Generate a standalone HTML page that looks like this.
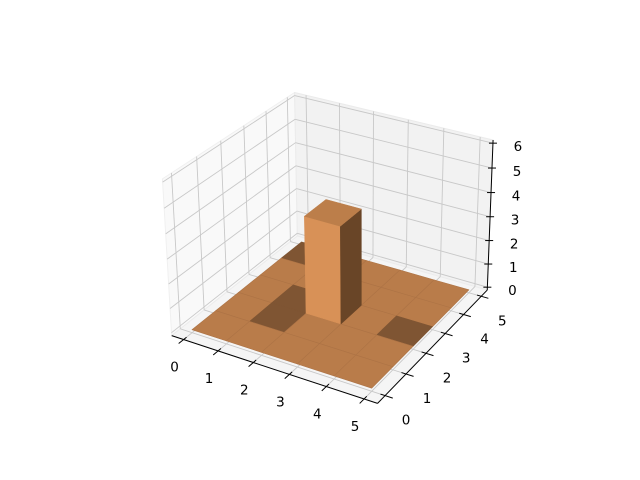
<!DOCTYPE html>
<html><head><meta charset="utf-8"><style>
html,body{margin:0;padding:0;background:#fff;}
svg{display:block;}
text{font-family:"DejaVu Sans","Liberation Sans",sans-serif;font-size:13.5px;fill:#000;}
</style></head><body>
<svg id="chart" width="640" height="480" viewBox="0 0 640 480" xmlns="http://www.w3.org/2000/svg">
<g id="panes"></g>
<g id="grid"></g>
<g id="axes"></g>
<g id="floor"></g>
<g id="bars"></g>
</svg>
<script>
// ---- data ----
const xTicks = [0,1,2,3,4,5];
const yTicks = [0,1,2,3,4,5];
const zTicks = [0,1,2,3,4,5,6];
const gridCols = 5;
const gridRows = 5;
const barCells = [[2,2]];      // [x, y]
const barHeights = [4];
const darkCells = [[1,1],[1,2],[0,4],[4,2]];

const xlim=[-0.35,5.35], ylim=[-0.35,5.35], zlim=[-0.125,6.125];

// ---- projection fitted from reference correspondences ----
const corr = [[0,0,0,192,330],[5,0,0,372,388],[5,5,0,469,290],[0,5,0,302,242],
  [2,2,4,305,216],[3,2,4,341,227],[3,3,4,361,209],[2,3,4,325,199],[3,2,0,341,324],[2,2,0,305,313]];
function solveDLT(){
  const A=[],b=[];
  corr.forEach(([X,Y,Z,u,v])=>{
    A.push([X,Y,Z,1,0,0,0,0,-u*X,-u*Y,-u*Z]);b.push(u);
    A.push([0,0,0,0,X,Y,Z,1,-v*X,-v*Y,-v*Z]);b.push(v);
  });
  const n=11,N=[],r=[];
  for(let i=0;i<n;i++){N.push(new Array(n).fill(0));r.push(0);
    for(let k=0;k<A.length;k++){r[i]+=A[k][i]*b[k];for(let j=0;j<n;j++)N[i][j]+=A[k][i]*A[k][j];}}
  for(let i=0;i<n;i++){let p=i;for(let k=i+1;k<n;k++)if(Math.abs(N[k][i])>Math.abs(N[p][i]))p=k;
    [N[i],N[p]]=[N[p],N[i]];[r[i],r[p]]=[r[p],r[i]];
    for(let k=i+1;k<n;k++){const f=N[k][i]/N[i][i];for(let j=i;j<n;j++)N[k][j]-=f*N[i][j];r[k]-=f*r[i];}}
  const x=new Array(n).fill(0);
  for(let i=n-1;i>=0;i--){let s=r[i];for(let j=i+1;j<n;j++)s-=N[i][j]*x[j];x[i]=s/N[i][i];}
  return x;
}
const P=solveDLT();
function proj(X,Y,Z){const w=P[8]*X+P[9]*Y+P[10]*Z+1;
  return [(P[0]*X+P[1]*Y+P[2]*Z+P[3])/w,(P[4]*X+P[5]*Y+P[6]*Z+P[7])/w];}
const NS="http://www.w3.org/2000/svg";
function poly(g,pts,fill,stroke,sw){const e=document.createElementNS(NS,'polygon');
  e.setAttribute('points',pts.map(p=>proj(...p).map(v=>v.toFixed(2)).join(',')).join(' '));
  e.setAttribute('fill',fill);e.setAttribute('stroke',stroke||'none');if(sw)e.setAttribute('stroke-width',sw);
  e.setAttribute('stroke-linejoin','round');g.appendChild(e);return e;}
function line(g,a,b,stroke,sw){const e=document.createElementNS(NS,'line');
  const p=proj(...a),q=proj(...b);
  e.setAttribute('x1',p[0]);e.setAttribute('y1',p[1]);e.setAttribute('x2',q[0]);e.setAttribute('y2',q[1]);
  e.setAttribute('stroke',stroke);e.setAttribute('stroke-width',sw);g.appendChild(e);return e;}
function label(g,pos,dx,dy,txt){const e=document.createElementNS(NS,'text');const p=proj(...pos);
  e.setAttribute('x',p[0]+dx);e.setAttribute('y',p[1]+dy);e.setAttribute('text-anchor','middle');
  e.setAttribute('dominant-baseline','central');e.textContent=txt;g.appendChild(e);return e;}

const [x0,x1]=xlim,[y0,y1]=ylim,[z0,z1]=zlim;
const gP=document.getElementById('panes'),gG=document.getElementById('grid'),gA=document.getElementById('axes');
let e;
e=poly(gP,[[x0,y0,z0],[x0,y1,z0],[x0,y1,z1],[x0,y0,z1]],'#f9f9f9','#f0f0f0',1);


e=poly(gP,[[x0,y1,z0],[x1,y1,z0],[x1,y1,z1],[x0,y1,z1]],'#f2f2f2','#ebebeb',1);


e=poly(gP,[[x0,y0,z0],[x1,y0,z0],[x1,y1,z0],[x0,y1,z0]],'#f5f5f5','#ececec',1);



const gc='#c8c8c8',gw=0.9;
xTicks.forEach(t=>{
  e=line(gG,[t,y0,z0],[t,y1,z0],gc,gw);
  e=line(gG,[t,y1,z0],[t,y1,z1],gc,gw);
});
yTicks.forEach(t=>{
  e=line(gG,[x0,t,z0],[x1,t,z0],gc,gw);
  e=line(gG,[x0,t,z0],[x0,t,z1],gc,gw);
});
zTicks.forEach(t=>{
  e=line(gG,[x0,y0,t],[x0,y1,t],gc,gw);
  e=line(gG,[x0,y1,t],[x1,y1,t],gc,gw);
});

// axis lines
e=line(gA,[x0,y0,z0],[x1,y0,z0],'#000',1);
e=line(gA,[x1,y0,z0],[x1,y1,z0],'#000',1);
e=line(gA,[x1,y1,z0],[x1,y1,z1],'#000',1);
xTicks.forEach(t=>{
  e=line(gA,[t,y0+0.12,z0],[t,y0-0.2,z0],'#000',1);
  e=label(gA,[t,y0,z0],-9,28,String(t));
});
yTicks.forEach(t=>{
  e=line(gA,[x1-0.12,t,z0],[x1+0.2,t,z0],'#000',1);
  e=label(gA,[x1,t,z0],21,25,String(t));
});
zTicks.forEach(t=>{
  const p=proj(x1,y1,t);const l=document.createElementNS(NS,'line');
  l.setAttribute('x1',p[0]-4);l.setAttribute('y1',p[1]);l.setAttribute('x2',p[0]+4);l.setAttribute('y2',p[1]);
  l.setAttribute('stroke','#000');l.setAttribute('stroke-width',1);
  
  
  gA.appendChild(l);
  e=label(gA,[x1,y1,t],25,4,String(t));
});

// floor cells
const gF=document.getElementById('floor');
const isDark=(i,j)=>darkCells.some(c=>c[0]===i&&c[1]===j);
for(let j=gridRows-1;j>=0;j--)for(let i=0;i<gridCols;i++){
  e=poly(gF,[[i,j,0],[i+1,j,0],[i+1,j+1,0],[i,j+1,0]],isDark(i,j)?'#7f5533':'#b97c4a',isDark(i,j)?'#7f5533':'#ad7345',0.6);
  
  
}
// bars
const gB=document.getElementById('bars');
barCells.forEach((c,k)=>{
  const [i,j]=c,h=barHeights[k];
  e=poly(gB,[[i,j,0],[i+1,j,0],[i+1,j,h],[i,j,h]],'#d89157','#d89157',0.5);
  
  
  e=poly(gB,[[i+1,j,0],[i+1,j+1,0],[i+1,j+1,h],[i+1,j,h]],'#694527','#694527',0.5);
  
  
  e=poly(gB,[[i,j,h],[i+1,j,h],[i+1,j+1,h],[i,j+1,h]],'#bc7e4a','#bc7e4a',0.5);
  
  
});
</script>
</body></html>
